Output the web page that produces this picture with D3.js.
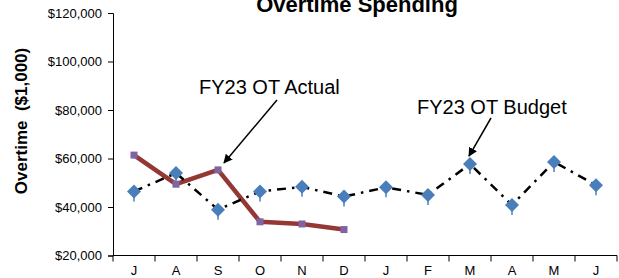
<!DOCTYPE html>
<html>
<head>
<meta charset="utf-8">
<script src="https://cdn.jsdelivr.net/npm/d3@7/dist/d3.min.js"></script>
<style>
  html, body { margin: 0; padding: 0; background: #fff; }
  svg { display: block; font-family: Arial, "Liberation Sans", sans-serif; }
</style>
</head>
<body>
<svg id="chart" width="619" height="278"></svg>
<script>
const months = ["J","A","S","O","N","D","J","F","M","A","M","J"];
const budget = [46400, 54000, 38900, 46400, 48300, 44300, 48100, 45000, 57700, 40800, 58600, 49000];
const actual = [61400, 49400, 55300, 33900, 33000, 30700];
const yTicks = [20000, 40000, 60000, 80000, 100000, 120000];

const svg = d3.select("#chart");
const plotLeft = 113, plotRight = 617, plotTop = 13, plotBottom = 255.5;

const x = d3.scaleBand().domain(d3.range(months.length)).range([plotLeft, plotRight]);
const y = d3.scaleLinear().domain([20000, 120000]).range([plotBottom, plotTop]);
const cx = i => x(i) + x.bandwidth() / 2;

// Title
svg.append("text").attr("x", 357).attr("y", 12).attr("text-anchor", "middle")
  .attr("font-size", 22).attr("font-weight", "bold").text("Overtime Spending");

// Y axis label
svg.append("text").attr("transform", "translate(27,121) rotate(-90)")
  .attr("text-anchor", "middle").attr("font-size", 17).attr("font-weight", "bold")
  .attr("xml:space", "preserve").text("Overtime  ($1,000)");

// Y axis
const yAxis = d3.axisLeft(y).tickValues(yTicks).tickSize(5).tickPadding(6)
  .tickFormat(d => "$" + d3.format(",")(d));
const gy = svg.append("g").attr("transform", `translate(${plotLeft},0)`).call(yAxis);
gy.selectAll("text").attr("font-size", 13).attr("fill", "#000").attr("font-family", "Arial, 'Liberation Sans', sans-serif");
gy.selectAll("line, path").attr("stroke", "#000");

// X axis
const xb = d3.scaleLinear().domain([0, months.length]).range([plotLeft, plotRight]);
const gx = svg.append("g").attr("transform", `translate(0,${plotBottom})`);
gx.append("line").attr("x1", plotLeft).attr("x2", plotRight).attr("y1", 0).attr("y2", 0).attr("stroke", "#000");
gx.selectAll("line.tk").data(d3.range(months.length + 1)).join("line").attr("class", "tk")
  .attr("x1", d => xb(d)).attr("x2", d => xb(d)).attr("y1", 0).attr("y2", 6).attr("stroke", "#000");
gx.selectAll("text").data(months).join("text")
  .attr("x", (d, i) => cx(i)).attr("y", 19).attr("text-anchor", "middle")
  .attr("font-size", 13).text(d => d);

// Actual series
const line = d3.line().x((d, i) => cx(i)).y(d => y(d));
svg.append("path").datum(actual).attr("d", line).attr("fill", "none")
  .attr("stroke", "#953735").attr("stroke-width", 4.5).attr("stroke-linejoin", "round");
svg.selectAll("rect.act").data(actual).join("rect").attr("class", "act")
  .attr("x", (d, i) => cx(i) - 3.5).attr("y", d => y(d) - 3.5)
  .attr("width", 7).attr("height", 7).attr("fill", "#8064A2");

// Budget series
svg.append("path").datum(budget).attr("d", line).attr("fill", "none")
  .attr("stroke", "#000").attr("stroke-width", 2.5).attr("stroke-dasharray", "9,6,2.5,6");
svg.selectAll("g.bud").data(budget).join("g").attr("class", "bud")
  .attr("transform", (d, i) => `translate(${cx(i)},${y(d)})`)
  .each(function () {
    const g = d3.select(this);
    g.append("line").attr("x1", 0).attr("x2", 0).attr("y1", 4).attr("y2", 10)
      .attr("stroke", "#4A7EBB").attr("stroke-width", 1.5);
    g.append("path").attr("d", "M0,-7L7,0L0,7L-7,0Z").attr("fill", "#4A7EBB");
  });

// Annotations
const defs = svg.append("defs");
defs.append("marker").attr("id", "ah").attr("viewBox", "0 0 10 10").attr("refX", 9).attr("refY", 5)
  .attr("markerWidth", 9).attr("markerHeight", 9).attr("orient", "auto").attr("markerUnits", "userSpaceOnUse")
  .append("path").attr("d", "M0,0L10,5L0,10Z").attr("fill", "#000");

svg.append("text").attr("x", 199).attr("y", 94).attr("font-size", 20).text("FY23 OT Actual");
svg.append("line").attr("x1", 277).attr("y1", 100)
  .attr("x2", cx(2) + 6).attr("y2", y(actual[2]) - 7)
  .attr("stroke", "#000").attr("stroke-width", 1.5).attr("marker-end", "url(#ah)");

svg.append("text").attr("x", 417).attr("y", 114).attr("font-size", 20).text("FY23 OT Budget");
svg.append("line").attr("x1", 491).attr("y1", 118)
  .attr("x2", cx(8) - 1).attr("y2", y(budget[8]) - 8)
  .attr("stroke", "#000").attr("stroke-width", 1.5).attr("marker-end", "url(#ah)");
</script>
</body>
</html>
